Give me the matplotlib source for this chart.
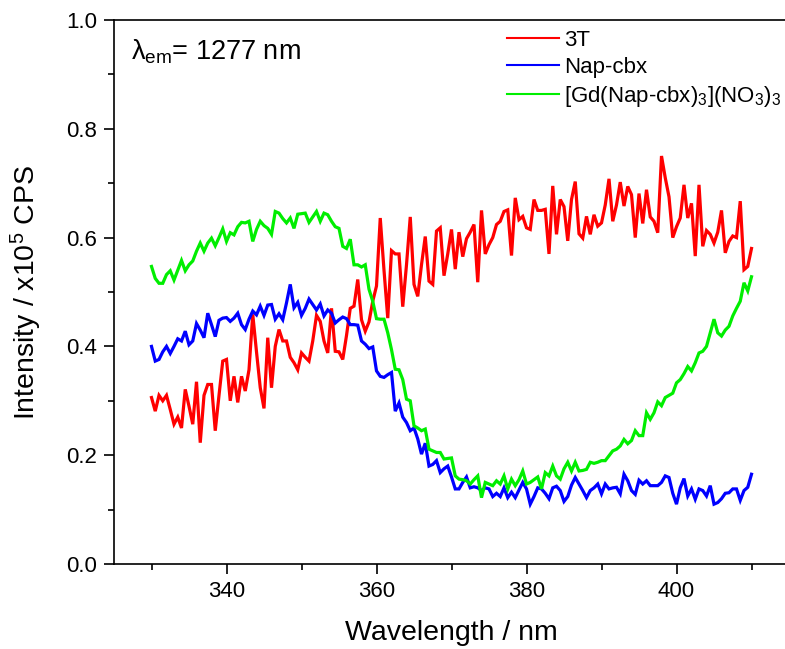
import numpy as np
import matplotlib
matplotlib.use("Agg")
import matplotlib.pyplot as plt
from matplotlib.lines import Line2D
from matplotlib.ticker import MultipleLocator

plt.rcParams['font.family'] = ['Liberation Sans', 'DejaVu Sans']
plt.rcParams['mathtext.fontset'] = 'custom'
plt.rcParams['mathtext.rm'] = 'Liberation Sans'
plt.rcParams['mathtext.it'] = 'Liberation Sans'
plt.rcParams['mathtext.bf'] = 'Liberation Sans:bold'

wl_start, wl_stop, wl_step = 330.0, 410.0, 0.5

red_3T = [
    0.306, 0.281, 0.310, 0.300, 0.310, 0.284, 0.257, 0.270, 0.250, 0.321,
    0.290, 0.257, 0.335, 0.223, 0.310, 0.330, 0.330, 0.245, 0.310, 0.373,
    0.376, 0.300, 0.345, 0.297, 0.345, 0.318, 0.357, 0.459, 0.390, 0.324,
    0.286, 0.416, 0.324, 0.400, 0.431, 0.410, 0.410, 0.380, 0.370, 0.357,
    0.388, 0.380, 0.373, 0.410, 0.457, 0.446, 0.410, 0.388, 0.470, 0.391,
    0.390, 0.376, 0.420, 0.470, 0.474, 0.523, 0.449, 0.428, 0.445, 0.483,
    0.511, 0.636, 0.540, 0.452, 0.576, 0.570, 0.570, 0.473, 0.550, 0.638,
    0.514, 0.492, 0.550, 0.602, 0.520, 0.514, 0.612, 0.618, 0.530, 0.570,
    0.615, 0.542, 0.610, 0.565, 0.598, 0.610, 0.624, 0.518, 0.650, 0.570,
    0.587, 0.600, 0.624, 0.630, 0.648, 0.651, 0.567, 0.673, 0.633, 0.639,
    0.618, 0.615, 0.670, 0.650, 0.650, 0.652, 0.570, 0.695, 0.606, 0.670,
    0.657, 0.594, 0.670, 0.703, 0.607, 0.599, 0.639, 0.606, 0.642, 0.621,
    0.627, 0.660, 0.708, 0.630, 0.660, 0.702, 0.658, 0.694, 0.679, 0.600,
    0.681, 0.626, 0.688, 0.638, 0.630, 0.609, 0.750, 0.710, 0.675, 0.600,
    0.620, 0.636, 0.697, 0.636, 0.663, 0.566, 0.697, 0.584, 0.613, 0.606,
    0.590, 0.610, 0.650, 0.572, 0.593, 0.603, 0.600, 0.667, 0.541, 0.547,
    0.580,
]

blue_napcbx = [
    0.400, 0.373, 0.376, 0.390, 0.400, 0.387, 0.400, 0.414, 0.410, 0.428,
    0.403, 0.410, 0.442, 0.430, 0.416, 0.461, 0.440, 0.418, 0.448, 0.452,
    0.453, 0.446, 0.452, 0.461, 0.440, 0.431, 0.450, 0.465, 0.458, 0.474,
    0.457, 0.476, 0.477, 0.450, 0.460, 0.449, 0.480, 0.514, 0.471, 0.481,
    0.457, 0.470, 0.487, 0.477, 0.467, 0.478, 0.456, 0.467, 0.461, 0.443,
    0.449, 0.454, 0.451, 0.440, 0.440, 0.439, 0.410, 0.404, 0.396, 0.399,
    0.355, 0.345, 0.343, 0.348, 0.352, 0.281, 0.296, 0.270, 0.260, 0.245,
    0.250, 0.230, 0.202, 0.222, 0.180, 0.183, 0.190, 0.168, 0.175, 0.180,
    0.160, 0.138, 0.138, 0.150, 0.160, 0.140, 0.142, 0.140, 0.135, 0.140,
    0.138, 0.124, 0.130, 0.124, 0.140, 0.122, 0.132, 0.122, 0.136, 0.150,
    0.138, 0.110, 0.124, 0.140, 0.138, 0.130, 0.120, 0.140, 0.143, 0.135,
    0.115, 0.124, 0.145, 0.159, 0.147, 0.135, 0.122, 0.135, 0.140, 0.147,
    0.129, 0.147, 0.138, 0.140, 0.141, 0.129, 0.165, 0.153, 0.135, 0.128,
    0.154, 0.147, 0.153, 0.144, 0.144, 0.144, 0.150, 0.162, 0.159, 0.130,
    0.110, 0.140, 0.157, 0.125, 0.138, 0.119, 0.138, 0.135, 0.125, 0.144,
    0.110, 0.113, 0.120, 0.130, 0.131, 0.138, 0.138, 0.117, 0.135, 0.141,
    0.165,
]

green_gd = [
    0.547, 0.525, 0.516, 0.516, 0.532, 0.539, 0.522, 0.540, 0.558, 0.539,
    0.550, 0.557, 0.575, 0.590, 0.575, 0.590, 0.599, 0.585, 0.600, 0.616,
    0.593, 0.609, 0.605, 0.620, 0.628, 0.627, 0.630, 0.593, 0.615, 0.630,
    0.622, 0.617, 0.606, 0.648, 0.645, 0.635, 0.627, 0.636, 0.617, 0.643,
    0.644, 0.645, 0.628, 0.638, 0.648, 0.630, 0.645, 0.642, 0.630, 0.620,
    0.617, 0.584, 0.580, 0.597, 0.550, 0.550, 0.546, 0.550, 0.505, 0.483,
    0.451, 0.450, 0.450, 0.425, 0.394, 0.358, 0.357, 0.339, 0.303, 0.300,
    0.254, 0.250, 0.245, 0.248, 0.211, 0.208, 0.205, 0.205, 0.193, 0.194,
    0.195, 0.162, 0.156, 0.155, 0.153, 0.147, 0.155, 0.162, 0.122, 0.150,
    0.147, 0.144, 0.153, 0.147, 0.162, 0.138, 0.156, 0.144, 0.155, 0.171,
    0.147, 0.150, 0.155, 0.160, 0.138, 0.168, 0.162, 0.180, 0.162, 0.156,
    0.175, 0.187, 0.171, 0.187, 0.171, 0.172, 0.174, 0.187, 0.185, 0.187,
    0.190, 0.190, 0.199, 0.208, 0.211, 0.217, 0.229, 0.221, 0.227, 0.245,
    0.236, 0.236, 0.278, 0.266, 0.278, 0.298, 0.291, 0.306, 0.310, 0.314,
    0.333, 0.339, 0.350, 0.363, 0.355, 0.370, 0.388, 0.391, 0.400, 0.425,
    0.450, 0.425, 0.419, 0.430, 0.437, 0.456, 0.470, 0.483, 0.517, 0.502,
    0.528,
]

labels = ['3T', 'Nap-cbx', r'[Gd(Nap-cbx)$_3$](NO$_3$)$_3$']
colors = ['#FF0000', '#0000FF', '#00EE00']
series = [red_3T, blue_napcbx, green_gd]

fig = plt.figure(figsize=(7.85, 6.49), dpi=100)
ax = fig.add_axes([114 / 785, 1 - 564 / 649, (789 - 114) / 785, (564 - 20) / 649])

for vals, c in zip(series, colors):
    n = len(vals)
    wl = wl_start + wl_step * np.arange(n)
    ax.plot(wl, vals, color=c, lw=2.3, solid_joinstyle='miter')

ax.set_xlim(325, 415)
ax.set_ylim(0.0, 1.0)
ax.xaxis.set_major_locator(MultipleLocator(20))
ax.xaxis.set_minor_locator(MultipleLocator(10))
ax.yaxis.set_major_locator(MultipleLocator(0.2))
ax.yaxis.set_minor_locator(MultipleLocator(0.1))
ax.yaxis.set_major_formatter(matplotlib.ticker.FormatStrFormatter('%.1f'))

for s in ['left', 'bottom', 'top', 'right']:
    ax.spines[s].set_linewidth(1.2)
ax.tick_params(which='major', direction='out', length=7, width=1.2,
               labelsize=16, pad=5, top=False, right=False)
ax.tick_params(which='minor', direction='out', length=4, width=1.2,
               top=False, right=False)

ax.set_xlabel('Wavelength / nm', fontsize=20.5, labelpad=13)
ax.set_ylabel(r'Intensity / x10$^5$ CPS', fontsize=20.5, labelpad=16)

ax.text(0.025, 0.941, r'$\lambda_{\mathrm{em}}$= 1277 nm', transform=ax.transAxes,
        fontsize=19.5, va='center', ha='left')

handles = [Line2D([], [], color=c, lw=1.5) for c in colors]
leg = ax.legend(handles, labels, loc='upper left', bbox_to_anchor=(0.568, 1.0),
                frameon=False, fontsize=16, handlelength=2.3, handletextpad=0.25,
                labelspacing=0.27, borderaxespad=0.05)

fig.savefig('out.png', dpi=100)
